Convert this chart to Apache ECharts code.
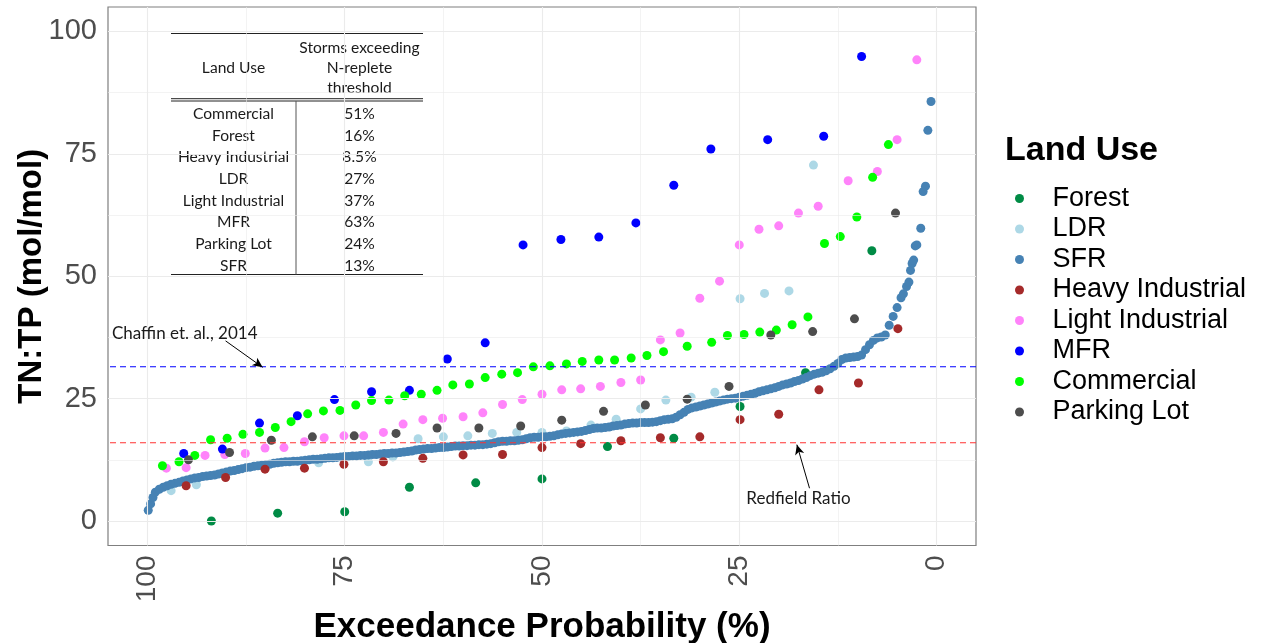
<!DOCTYPE html>
<html>
<head>
<meta charset="utf-8">
<script src="https://cdn.jsdelivr.net/npm/echarts@6/dist/echarts.min.js"></script>
<style>
  html, body { margin: 0; padding: 0; background: #fff; }
  #chart { width: 1267px; height: 643px; }
</style>
</head>
<body>
<div id="chart"></div>
<script>
// axis range and breaks (ggplot style major + minor grid)
const xMin = -5, xMax = 105
const breaks = [0, 25, 50, 75, 100]
const minorBreaks = [12.5, 37.5, 62.5, 87.5]

// reference lines
const chaffinLine = 31.5
const redfieldLine = 16

// [exceedance probability %, TN:TP]
const forest = [[91.9,0],[83.5,1.6],[75.0,1.9],[66.8,6.9],[58.4,7.8],[50.0,8.6],[41.7,15.2],[33.3,16.9],[24.9,23.4],[16.6,30.3],[8.2,55.2]]
const ldr = [[97.0,6.2],[93.8,7.4],[78.3,11.9],[72.0,12.1],[68.9,13.1],[65.7,16.8],[62.5,17.2],[59.4,17.4],[56.3,17.9],[53.2,18.1],[50.0,18.1],[46.9,18.4],[43.8,19.6],[40.6,20.8],[37.5,22.9],[34.3,24.7],[31.1,25.3],[28.1,26.3],[24.9,45.4],[21.8,46.5],[18.7,47.0],[15.6,72.7]]
const sfr = [[99.9,2.2],[99.6,3.5],[99.3,4.8],[99.0,5.9],[98.5,6.5],[98.0,6.9],[97.5,7.2],[97.0,7.5],[96.5,7.7],[96.0,7.9],[95.5,8.2],[95.0,8.4],[94.5,8.6],[94.0,8.8],[93.5,8.9],[93.0,9.1],[92.5,9.2],[92.0,9.3],[91.5,9.4],[91.0,9.6],[90.5,9.8],[90.0,10.0],[89.5,10.2],[89.0,10.3],[88.5,10.5],[88.0,10.7],[87.5,10.9],[87.0,11.0],[86.5,11.2],[86.0,11.3],[85.5,11.4],[85.0,11.5],[84.5,11.6],[84.0,11.8],[83.5,11.9],[83.0,12.0],[82.5,12.1],[82.0,12.1],[81.5,12.2],[81.0,12.2],[80.5,12.3],[80.0,12.4],[79.5,12.5],[79.0,12.6],[78.5,12.6],[78.0,12.7],[77.5,12.8],[77.0,12.9],[76.5,12.9],[76.0,13.0],[75.5,13.1],[75.0,13.2],[74.5,13.2],[74.0,13.3],[73.5,13.3],[73.0,13.4],[72.5,13.4],[72.0,13.5],[71.5,13.6],[71.0,13.6],[70.5,13.7],[70.0,13.8],[69.5,13.8],[69.0,13.9],[68.5,13.9],[68.0,14.0],[67.5,14.1],[67.0,14.2],[66.5,14.3],[66.0,14.5],[65.5,14.6],[65.0,14.7],[64.5,14.8],[64.0,14.8],[63.5,14.9],[63.0,15.0],[62.5,15.0],[62.0,15.1],[61.5,15.2],[61.0,15.3],[60.5,15.3],[60.0,15.4],[59.5,15.4],[59.0,15.5],[58.5,15.5],[58.0,15.6],[57.5,15.6],[57.0,15.7],[56.5,15.8],[56.0,16.0],[55.5,16.2],[55.0,16.3],[54.5,16.3],[54.0,16.4],[53.5,16.4],[53.0,16.5],[52.5,16.6],[52.0,16.8],[51.5,17.0],[51.0,17.1],[50.5,17.1],[50.0,17.2],[49.5,17.2],[49.0,17.3],[48.5,17.4],[48.0,17.6],[47.5,17.8],[47.0,17.9],[46.5,18.0],[46.0,18.1],[45.5,18.2],[45.0,18.3],[44.5,18.5],[44.0,18.7],[43.5,18.9],[43.0,19.0],[42.5,19.0],[42.0,19.1],[41.5,19.2],[41.0,19.4],[40.5,19.5],[40.0,19.6],[39.5,19.8],[39.0,19.9],[38.5,20.0],[38.0,20.0],[37.5,20.1],[37.0,20.1],[36.5,20.1],[36.0,20.2],[35.5,20.3],[35.0,20.5],[34.5,20.7],[34.0,20.8],[33.5,20.9],[33.0,21.2],[32.5,21.7],[32.0,22.2],[31.5,22.8],[31.0,23.1],[30.5,23.3],[30.0,23.5],[29.5,23.7],[29.0,23.9],[28.5,24.1],[28.0,24.3],[27.5,24.5],[27.0,24.7],[26.5,24.9],[26.0,25.0],[25.5,25.1],[25.0,25.3],[24.5,25.5],[24.0,25.7],[23.5,25.9],[23.0,26.1],[22.5,26.4],[22.0,26.6],[21.5,26.8],[21.0,27.0],[20.5,27.2],[20.0,27.5],[19.5,27.8],[19.0,28.0],[18.5,28.2],[18.0,28.5],[17.5,28.7],[17.0,29.0],[16.5,29.3],[16.0,29.7],[15.5,30.0],[15.0,30.2],[14.5,30.4],[14.0,30.7],[13.5,31.1],[13.0,31.6],[12.5,32.2],[12.0,33.0],[11.5,33.3],[11.0,33.4],[10.5,33.5],[10.0,33.6],[9.5,33.9],[9.0,35.0],[8.5,36.0],[8.0,36.9],[7.5,37.4],[7.0,37.6],[6.5,38.0],[6.0,40.0],[5.5,41.8],[5.0,43.6],[4.5,45.6],[4.2,46.4],[3.8,47.9],[3.5,48.8],[3.3,51.2],[3.1,52.6],[2.9,53.3],[2.7,56.2],[2.5,56.4],[2.0,59.8],[1.7,67.3],[1.4,68.4],[1.1,79.8],[0.7,85.7]]
const heavyInd = [[95.1,7.2],[90.1,8.9],[85.1,10.6],[80.1,10.8],[75.1,11.6],[70.1,12.1],[65.1,12.8],[60.0,13.5],[55.0,13.6],[50.0,15.0],[45.1,15.8],[40.0,16.4],[35.0,17.0],[30.0,17.2],[24.9,20.7],[20.0,21.8],[14.9,26.8],[9.9,28.2],[4.9,39.3]]
const lightInd = [[97.6,10.8],[95.1,10.9],[92.7,13.4],[90.2,13.6],[87.6,13.8],[85.1,14.9],[82.7,15.0],[80.1,16.2],[77.6,17.0],[75.1,17.4],[72.6,17.4],[70.1,18.1],[67.6,19.8],[65.1,20.7],[62.6,21.0],[60.0,21.3],[57.5,22.1],[55.0,23.8],[52.5,24.8],[50.0,25.9],[47.5,26.8],[45.1,27.0],[42.6,27.5],[40.0,28.3],[37.5,28.8],[35.0,37.0],[32.5,38.4],[30.0,45.5],[27.5,49.0],[25.0,56.4],[22.5,59.6],[20.0,60.3],[17.5,62.9],[15.0,64.3],[11.2,69.5],[7.5,71.4],[5.0,77.9],[2.5,94.2]]
const mfr = [[95.4,13.8],[90.5,14.7],[85.8,20.0],[81.0,21.5],[76.3,24.8],[71.6,26.4],[66.8,26.7],[62.0,33.1],[57.2,36.4],[52.4,56.4],[47.6,57.5],[42.8,58.0],[38.1,60.9],[33.3,68.6],[28.6,76.0],[21.4,77.9],[14.3,78.6],[9.5,94.9]]
const commercial = [[98.1,11.3],[96.0,12.1],[94.0,13.4],[92.0,16.6],[89.9,16.9],[87.9,17.7],[85.8,18.1],[83.8,19.1],[81.8,20.3],[79.7,21.9],[77.7,22.5],[75.6,22.6],[73.6,23.7],[71.6,24.6],[69.4,24.7],[67.4,25.6],[65.3,25.9],[63.3,26.7],[61.3,27.8],[59.2,28.0],[57.2,29.3],[55.1,30.0],[53.1,30.3],[51.1,31.5],[49.0,31.7],[46.9,32.1],[44.9,32.6],[42.8,32.9],[40.8,32.9],[38.7,33.3],[36.7,33.8],[34.6,34.6],[31.6,35.7],[28.5,36.5],[26.5,37.9],[24.4,38.1],[22.4,38.6],[20.3,39.0],[18.3,40.1],[16.3,41.7],[14.2,56.7],[12.2,58.1],[10.1,62.1],[8.1,70.2],[6.1,76.9]]
const parkingLot = [[94.8,12.5],[89.6,14.0],[84.3,16.5],[79.1,17.2],[73.8,17.4],[68.5,17.9],[63.3,19.0],[58.0,19.0],[52.7,19.4],[47.5,20.6],[42.2,22.4],[36.9,23.7],[31.6,24.9],[26.3,27.5],[21.0,38.0],[15.7,38.7],[10.4,41.3],[5.2,62.9]]

// inset table
const tableLandUse = ['Commercial', 'Forest', 'Heavy Industrial', 'LDR', 'Light Industrial', 'MFR', 'Parking Lot', 'SFR']
const tableExceed = ['51%', '16%', '8.5%', '27%', '37%', '63%', '24%', '13%']

const groups = [
  { name: 'Forest', data: forest, color: '#008B45' },
  { name: 'LDR', data: ldr, color: '#ADD8E6' },
  { name: 'SFR', data: sfr, color: '#4682B4' },
  { name: 'Heavy Industrial', data: heavyInd, color: '#A52A2A' },
  { name: 'Light Industrial', data: lightInd, color: '#FF83FA' },
  { name: 'MFR', data: mfr, color: '#0000FF' },
  { name: 'Commercial', data: commercial, color: '#00FF00' },
  { name: 'Parking Lot', data: parkingLot, color: '#4D4D4D' }
]

const sans = '"Liberation Sans", Arial, sans-serif'
const calibriLike = 'Lato, "Liberation Sans", sans-serif'

const chart = echarts.init(document.getElementById('chart'))

// an empty scatter series that only carries a markLine
function markerSeries(name, z, lineStyle, data, symbol) {
  return {
    name: name,
    type: 'scatter',
    data: [],
    silent: true,
    z: z,
    markLine: {
      silent: true,
      animation: false,
      symbol: symbol || ['none', 'none'],
      symbolSize: [7, 10],
      label: { show: false },
      emphasis: { disabled: true },
      lineStyle: lineStyle,
      data: data
    }
  }
}

// horizontal dashed threshold across the whole x range
function hline(name, value, color) {
  return {
    name: name,
    type: 'line',
    data: [[xMin, value], [xMax, value]],
    symbol: 'none',
    silent: true,
    z: 3,
    lineStyle: { color: color, type: [6, 4], width: 1.1 },
    itemStyle: { color: color },
    emphasis: { disabled: true }
  }
}

const majorLines = []
const minorLines = []
breaks.forEach(v => { majorLines.push({ xAxis: v }); majorLines.push({ yAxis: v }) })
minorBreaks.forEach(v => { minorLines.push({ xAxis: v }); minorLines.push({ yAxis: v }) })

const series = [
  markerSeries('_minor', 1, { color: '#EBEBEB', type: 'solid', width: 0.6 }, minorLines),
  markerSeries('_major', 1, { color: '#EBEBEB', type: 'solid', width: 1.1 }, majorLines)
]

groups.forEach(g => {
  series.push({
    name: g.name,
    type: 'scatter',
    data: g.data,
    symbol: 'circle',
    symbolSize: 9,
    z: 2,
    itemStyle: { color: g.color, opacity: 1 },
    emphasis: { disabled: true }
  })
})

series.push(hline('_chaffin', chaffinLine, '#0000FF'))
series.push(hline('_redfield', redfieldLine, '#FF3333'))
series.push(markerSeries('_arrows', 3, { color: '#000', type: 'solid', width: 1 }, [
  [{ coord: [90.1, 36.8] }, { coord: [85.4, 31.4] }],
  [{ coord: [16.1, 6.7] }, { coord: [17.7, 15.6] }]
], ['none', 'arrow']))

chart.setOption({
  animation: false,
  backgroundColor: '#fff',
  title: {
    text: 'Land Use',
    left: 1000,
    top: 129,
    textStyle: { fontFamily: sans, fontSize: 34, fontWeight: 'bold', color: '#000' }
  },
  legend: {
    data: groups.map(g => g.name),
    orient: 'vertical',
    left: 1010,
    top: 180,
    icon: 'circle',
    itemWidth: 56,
    itemHeight: 9,
    itemGap: 3.5,
    symbolKeepAspect: true,
    selectedMode: false,
    textStyle: { fontFamily: sans, fontSize: 27, lineHeight: 27, color: '#000' }
  },
  grid: {
    left: 108,
    right: 291,
    top: 7,
    bottom: 97.5,
    outerBoundsMode: 'none',
    containLabel: false,
    show: true,
    borderColor: '#7F7F7F',
    borderWidth: 1.2,
    backgroundColor: 'transparent'
  },
  xAxis: {
    type: 'value',
    min: xMin,
    max: xMax,
    inverse: true,
    axisLine: { show: false },
    axisTick: { show: true, length: 5, customValues: breaks, lineStyle: { color: '#333' } },
    axisLabel: { customValues: breaks, rotate: 90, margin: 10, fontSize: 28, color: '#4D4D4D', fontFamily: sans },
    splitLine: { show: false },
    name: 'Exceedance Probability (%)',
    nameLocation: 'middle',
    nameGap: 62,
    nameTextStyle: { fontFamily: sans, fontSize: 35, fontWeight: 'bold', color: '#000' }
  },
  yAxis: {
    type: 'value',
    min: xMin,
    max: xMax,
    axisLine: { show: false },
    axisTick: { show: true, length: 5, customValues: breaks, lineStyle: { color: '#333' } },
    axisLabel: { customValues: breaks, margin: 11, fontSize: 29, color: '#4D4D4D', fontFamily: sans },
    splitLine: { show: false },
    name: 'TN:TP (mol/mol)',
    nameLocation: 'middle',
    nameGap: 60,
    nameMoveOverlap: false,
    nameTextStyle: { fontFamily: sans, fontSize: 33, fontWeight: 'bold', color: '#000' }
  },
  series: series
})

// annotation labels placed in data coordinates
const toPx = p => chart.convertToPixel({ xAxisIndex: 0, yAxisIndex: 0 }, p)
const chaffinPos = toPx([104.5, 38.3])
const redfieldPos = toPx([17.5, 4.6])

// inset table (pixel layout)
const tLeft = 171, tRight = 423, tTop = 33.5, tBottom = 274.5, tMid = 296
const col1 = 233.5, col2 = 359.5
const rowTop = 114, rowStep = 21.65
const tableFont = '15.6px ' + calibriLike
const tableEls = [
  { type: 'rect', shape: { x: tLeft, y: tTop, width: tRight - tLeft, height: tBottom - tTop }, style: { fill: '#fff' } },
  { type: 'line', shape: { x1: tLeft, y1: tTop, x2: tRight, y2: tTop }, style: { stroke: '#222', lineWidth: 1.2 } },
  { type: 'line', shape: { x1: tLeft, y1: 98.7, x2: tRight, y2: 98.7 }, style: { stroke: '#222', lineWidth: 1 } },
  { type: 'line', shape: { x1: tLeft, y1: 101, x2: tRight, y2: 101 }, style: { stroke: '#222', lineWidth: 1 } },
  { type: 'line', shape: { x1: tLeft, y1: tBottom, x2: tRight, y2: tBottom }, style: { stroke: '#222', lineWidth: 1.2 } },
  { type: 'line', shape: { x1: tMid, y1: 101, x2: tMid, y2: tBottom }, style: { stroke: '#555', lineWidth: 1 } },
  { type: 'text', x: col1, y: 68, style: { text: 'Land Use', font: tableFont, fill: '#1a1a1a', align: 'center', verticalAlign: 'middle' } },
  { type: 'text', x: col2, y: 47.5, style: { text: 'Storms exceeding', font: tableFont, fill: '#1a1a1a', align: 'center', verticalAlign: 'middle' } },
  { type: 'text', x: col2, y: 68, style: { text: 'N-replete', font: tableFont, fill: '#1a1a1a', align: 'center', verticalAlign: 'middle' } },
  { type: 'text', x: col2, y: 88, style: { text: 'threshold', font: tableFont, fill: '#1a1a1a', align: 'center', verticalAlign: 'middle' } }
]
tableLandUse.forEach((name, i) => {
  const y = rowTop + i * rowStep
  tableEls.push({ type: 'text', x: col1, y: y, style: { text: name, font: tableFont, fill: '#1a1a1a', align: 'center', verticalAlign: 'middle' } })
  tableEls.push({ type: 'text', x: col2, y: y, style: { text: tableExceed[i], font: tableFont, fill: '#1a1a1a', align: 'center', verticalAlign: 'middle' } })
})

chart.setOption({
  graphic: [
    { type: 'group', z: 100, silent: true, children: tableEls },
    {
      type: 'text', z: 100, silent: true, x: chaffinPos[0], y: chaffinPos[1],
      style: { text: 'Chaffin et. al., 2014', font: '17px ' + calibriLike, fill: '#1a1a1a', align: 'left', verticalAlign: 'middle' }
    },
    {
      type: 'text', z: 100, silent: true, x: redfieldPos[0], y: redfieldPos[1],
      style: { text: 'Redfield Ratio', font: '17px ' + calibriLike, fill: '#1a1a1a', align: 'center', verticalAlign: 'middle' }
    }
  ]
})
</script>
</body>
</html>
